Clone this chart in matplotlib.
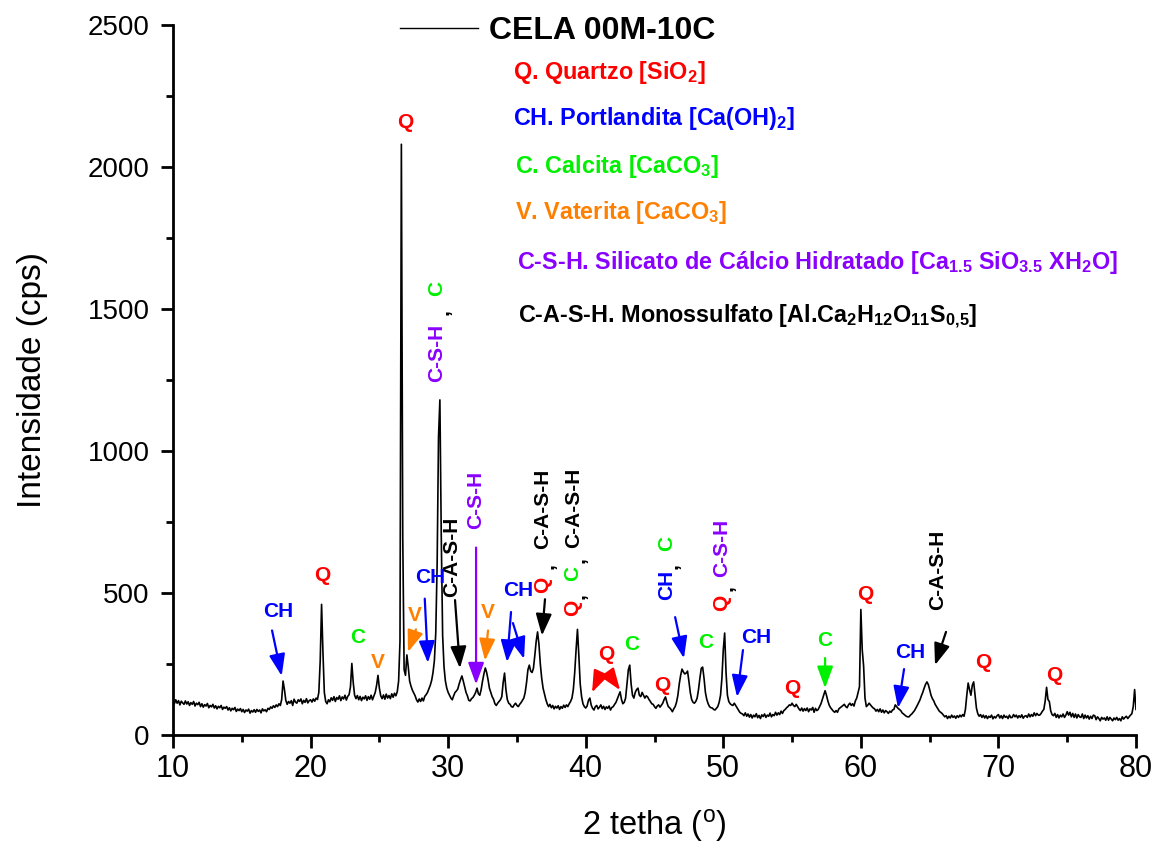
import matplotlib
matplotlib.use("Agg")
import numpy as np
import matplotlib.pyplot as plt
from matplotlib.ticker import MultipleLocator
from matplotlib.lines import Line2D

plt.rcParams['font.family'] = ['Liberation Sans', 'DejaVu Sans']
plt.rcParams['mathtext.default'] = 'regular'

# Step scan of sample CELA 00M-10C: 10-80 deg 2-theta, 0.1 deg step (intensity in cps)
scan_start, scan_step = 10.0, 0.1
counts_10_20 = [
    118, 110, 124, 112, 121, 106, 119, 113, 108, 120,
    109, 117, 104, 114, 108, 118, 102, 112, 107, 115,
    100, 110, 98, 107, 102, 111, 96, 104, 99, 108,
    95, 103, 92, 101, 96, 104, 90, 98, 94, 100,
    88, 96, 85, 94, 89, 97, 83, 91, 86, 93,
    82, 90, 79, 88, 84, 91, 77, 86, 81, 89,
    80, 90, 83, 88, 78, 92, 85, 89, 82, 94,
    90, 99, 94, 103, 97, 106, 100, 110, 104, 125,
    190, 160, 122, 108, 118, 112, 121, 104, 126, 116,
    112, 124, 118, 127, 110, 122, 115, 128, 113, 121,
]
counts_20_30 = [
    124, 116, 127, 119, 130, 125, 150, 260, 460, 290,
    150, 118, 110, 124, 117, 131, 122, 135, 118, 132,
    126, 138, 121, 134, 127, 140, 123, 136, 142, 170,
    252, 185, 140, 128, 139, 124, 136, 121, 133, 127,
    138, 122, 135, 126, 140, 124, 137, 150, 175, 210,
    165, 138, 128, 141, 126, 144, 130, 139, 128, 145,
    133, 147, 138, 152, 190, 330, 2080, 700, 230, 210,
    282, 240, 190, 172, 158, 148, 138, 124, 116, 127,
    118, 130, 120, 136, 142, 150, 162, 175, 192, 220,
    262, 360, 600, 1050, 1180, 700, 350, 240, 190, 165,
]
counts_30_40 = [
    150, 140, 130, 124, 138, 150, 155, 162, 180, 195,
    208, 190, 170, 150, 138, 122, 120, 128, 132, 140,
    150, 165, 145, 140, 160, 190, 215, 236, 220, 195,
    165, 150, 135, 126, 110, 104, 112, 118, 124, 135,
    185, 218, 160, 125, 112, 108, 100, 98, 106, 112,
    104, 100, 108, 114, 122, 130, 150, 185, 230, 246,
    225, 220, 235, 280, 330, 363, 320, 250, 200, 165,
    145, 125, 110, 100, 108, 96, 104, 92, 101, 95,
    103, 90, 100, 94, 105, 97, 106, 100, 110, 118,
    130, 160, 220, 300, 372, 280, 180, 135, 110, 100,
]
counts_40_50 = [
    95, 102, 122, 130, 105, 94, 88, 100, 104, 92,
    98, 106, 93, 101, 90, 99, 94, 102, 88, 97,
    100, 108, 115, 128, 140, 152, 125, 110, 115, 130,
    180, 230, 246, 180, 140, 130, 150, 160, 165, 140,
    135, 150, 140, 130, 138, 134, 125, 118, 110, 108,
    100, 94, 102, 106, 98, 105, 112, 125, 134, 115,
    100, 96, 90, 82, 92, 100, 115, 140, 180, 210,
    232, 222, 215, 218, 225, 190, 150, 125, 115, 112,
    118, 130, 160, 200, 235, 239, 200, 150, 125, 110,
    100, 96, 95, 90, 88, 94, 100, 115, 140, 200,
]
counts_50_60 = [
    300, 359, 220, 140, 118, 110, 106, 104, 112, 104,
    96, 88, 80, 76, 74, 68, 78, 66, 74, 63,
    72, 60, 70, 64, 75, 61, 69, 58, 71, 65,
    74, 62, 70, 66, 77, 64, 72, 68, 80, 70,
    78, 72, 84, 76, 86, 90, 96, 100, 106, 104,
    112, 104, 100, 108, 100, 92, 86, 95, 84, 93,
    86, 95, 82, 92, 88, 97, 80, 94, 86, 90,
    100, 110, 125, 140, 156, 140, 120, 105, 96, 90,
    84, 80, 86, 80, 92, 96, 100, 104, 108, 100,
    96, 106, 112, 104, 110, 102, 120, 130, 150, 170,
]
counts_60_70 = [
    442, 300, 243, 130, 100, 105, 112, 106, 100, 95,
    92, 84, 90, 82, 92, 80, 88, 78, 86, 82,
    76, 84, 80, 88, 90, 106, 100, 94, 90, 86,
    78, 74, 70, 66, 64, 64, 70, 74, 80, 86,
    95, 104, 114, 124, 138, 150, 165, 178, 187, 178,
    160, 140, 128, 120, 108, 100, 92, 84, 80, 76,
    70, 64, 68, 58, 66, 60, 70, 62, 67, 59,
    68, 62, 70, 64, 72, 66, 90, 140, 183, 160,
    140, 175, 187, 140, 95, 75, 66, 72, 62, 70,
    60, 68, 58, 66, 62, 70, 57, 65, 60, 68,
]
counts_70_80 = [
    72, 60, 68, 58, 70, 62, 66, 58, 70, 61,
    62, 72, 64, 70, 60, 68, 62, 71, 59, 66,
    68, 62, 74, 64, 72, 66, 78, 68, 76, 70,
    70, 76, 84, 90, 120, 168, 125, 118, 85, 72,
    68, 76, 62, 72, 60, 70, 64, 74, 62, 70,
    82, 70, 80, 64, 76, 62, 74, 60, 72, 64,
    62, 74, 58, 70, 60, 68, 56, 66, 58, 70,
    68, 54, 64, 58, 50, 62, 56, 60, 52, 64,
    52, 62, 56, 50, 60, 54, 62, 52, 58, 50,
    64, 56, 62, 66, 58, 64, 70, 75, 100, 160,
    90,
]

sample_name = "CELA 00M-10C"

# Phase key shown in the upper part of the plot
phase_names = [
    "Q. Quartzo [SiO$_2$]",
    "CH. Portlandita [Ca(OH)$_2$]",
    "C. Calcita [CaCO$_3$]",
    "V. Vaterita [CaCO$_3$]",
    "C-S-H. Silicato de Cálcio Hidratado [Ca$_{1.5}$ SiO$_{3.5}$ XH$_2$O]",
    "C-A-S-H. Monossulfato [Al.Ca$_2$H$_{12}$O$_{11}$S$_{0{,}5}$]",
]
RED, BLUE, GREEN, ORANGE, PURPLE, BLACK = "#FF0000", "#0000FF", "#00F000", "#FF8000", "#8A00FF", "#000000"
phase_colors = [RED, BLUE, GREEN, ORANGE, PURPLE, BLACK]
phase_key_pos = [(34.71, 2334), (34.71, 2172), (34.86, 2000), (34.86, 1841), (35.0, 1665), (35.08, 1472)]

# Peak labels: (text, colour, x, y, rotation)
peak_labels = [
    ("CH", BLUE, 17.65, 435, 0),
    ("Q", RED, 20.83, 560, 0),
    ("C", GREEN, 23.45, 342, 0),
    ("V", ORANGE, 24.9, 254, 0),
    ("Q", RED, 26.86, 2155, 0),
    ("V", ORANGE, 27.6, 422, 0),
    ("CH", BLUE, 28.68, 553, 0),
    ("C-A-S-H", BLACK, 30.28, 627, 90),
    ("C-S-H", PURPLE, 32.03, 827, 90),
    ("V", ORANGE, 32.9, 433, 0),
    ("CH", BLUE, 35.08, 510, 0),
    ("Q", RED, 36.9, 528, 90),
    (",", BLACK, 37.26, 595, 90),
    ("C-A-S-H", BLACK, 36.9, 796, 90),
    ("Q", RED, 39.08, 447, 90),
    (",", BLACK, 39.5, 490, 90),
    ("C", GREEN, 39.08, 570, 90),
    (",", BLACK, 39.5, 616, 90),
    ("C-A-S-H", BLACK, 39.15, 799, 90),
    ("Q", RED, 41.48, 282, 0),
    ("C", GREEN, 43.37, 317, 0),
    ("Q", RED, 45.55, 176, 0),
    ("CH", BLUE, 45.91, 528, 90),
    (",", BLACK, 46.3, 594, 90),
    ("C", GREEN, 45.91, 676, 90),
    ("C", GREEN, 48.74, 324, 0),
    ("Q", RED, 49.9, 465, 90),
    (",", BLACK, 50.3, 518, 90),
    ("C-S-H", PURPLE, 49.9, 658, 90),
    ("CH", BLUE, 52.4, 342, 0),
    ("Q", RED, 55.0, 165, 0),
    ("C", GREEN, 57.4, 334, 0),
    ("Q", RED, 60.3, 493, 0),
    ("CH", BLUE, 63.57, 289, 0),
    ("C-A-S-H", BLACK, 65.6, 581, 90),
    ("Q", RED, 68.88, 257, 0),
    ("Q", RED, 74.04, 211, 0),
    ("C-S-H", PURPLE, 29.19, 1345, 90),
    (",", BLACK, 29.6, 1490, 90),
    ("C", GREEN, 29.19, 1574, 90),
]

# Arrows: (colour, tail x, tail y, head x, head y)
peak_arrows = [
    (BLUE, 17.2, 368, 17.9, 208),
    (ORANGE, 27.66, 372, 27.08, 292),
    (BLUE, 28.3, 480, 28.53, 254),
    (BLACK, 30.5, 475, 30.86, 235),
    (PURPLE, 32.03, 660, 32.03, 178),
    (ORANGE, 32.9, 368, 32.68, 262),
    (BLUE, 34.57, 433, 34.28, 257),
    (BLUE, 34.71, 394, 35.52, 268),
    (BLACK, 37.04, 478, 36.82, 350),
    (RED, 41.1, 218, 40.46, 150),
    (RED, 41.62, 218, 42.5, 158),
    (BLUE, 46.5, 415, 47.14, 270),
    (BLUE, 51.43, 299, 51.0, 134),
    (GREEN, 57.4, 271, 57.4, 165),
    (BLUE, 63.14, 232, 62.7, 95),
    (BLACK, 66.19, 363, 65.39, 246),
]

counts = (counts_10_20 + counts_20_30 + counts_30_40 + counts_40_50
          + counts_50_60 + counts_60_70 + counts_70_80)
two_theta = scan_start + scan_step * np.arange(len(counts))

fig = plt.figure(figsize=(11.62, 8.47), dpi=100)
ax = fig.add_axes([173 / 1162, 112 / 847, 963 / 1162, 710 / 847])

ax.plot(two_theta, counts, color="black", lw=1.2, label=sample_name)

ax.set_xlim(10, 80)
ax.set_ylim(0, 2500)
ax.xaxis.set_major_locator(MultipleLocator(10))
ax.xaxis.set_minor_locator(MultipleLocator(5))
ax.yaxis.set_major_locator(MultipleLocator(500))
ax.yaxis.set_minor_locator(MultipleLocator(250))
ax.tick_params(which="major", direction="out", length=9, width=2)
ax.tick_params(which="minor", direction="out", length=5, width=2)
ax.tick_params(axis="x", which="major", labelsize=22, pad=5)
ax.tick_params(axis="y", which="major", labelsize=20, pad=8)
for side in ("top", "right"):
    ax.spines[side].set_visible(False)
for side in ("left", "bottom"):
    ax.spines[side].set_linewidth(2)

ax.set_xlabel("2 tetha ($^{o}$)", fontsize=23.5, labelpad=16)
ax.set_ylabel("Intensidade (cps)", fontsize=24, labelpad=28)

ax.legend(handles=[Line2D([], [], color="black", lw=1.0)], labels=[sample_name],
          loc="upper left", bbox_to_anchor=(0.2357, 1.012), frameon=False,
          borderpad=0, borderaxespad=0, handlelength=2.45, handletextpad=0.35,
          prop={"size": 23, "weight": "bold"})

for text, color, (x, y) in zip(phase_names, phase_colors, phase_key_pos):
    ax.text(x, y, text, color=color, fontsize=16.8, fontweight="bold",
            ha="left", va="center")

for text, color, x, y, rot in peak_labels:
    ax.text(x, y, text, color=color, fontsize=15, fontweight="bold",
            ha="center", va="center", rotation=rot)

for color, xt, yt, xh, yh in peak_arrows:
    ax.annotate("", xy=(xh, yh), xytext=(xt, yt),
                arrowprops=dict(arrowstyle="-|>,head_length=0.6,head_width=0.22",
                                color=color, lw=1.6, shrinkA=0, shrinkB=0,
                                mutation_scale=22))

fig.savefig("out.png", dpi=100)
